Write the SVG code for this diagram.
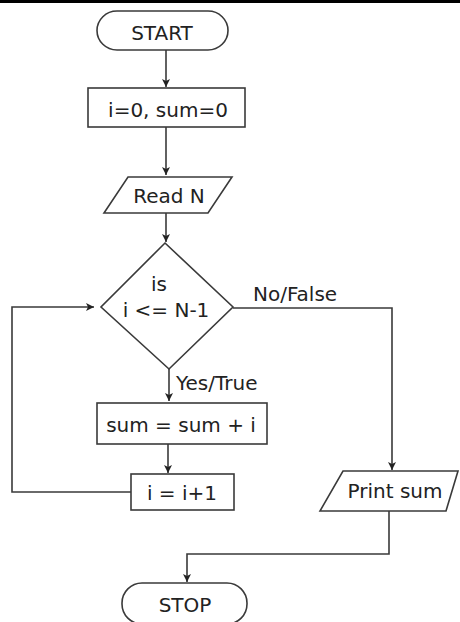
<svg xmlns="http://www.w3.org/2000/svg" width="460" height="622" viewBox="0 0 460 622">
<style>
.s{fill:#fff;stroke:#3a3a3a;stroke-width:1.6}
.c{fill:none;stroke:#3a3a3a;stroke-width:1.6}
.t{font-family:"DejaVu Sans",Verdana,sans-serif;font-size:20px;fill:#222}
.m{text-anchor:middle}
</style>
<defs>
<marker id="ah" markerWidth="10" markerHeight="10" refX="8" refY="4" orient="auto" markerUnits="userSpaceOnUse">
<path d="M0,0 L8,4 L0,8 L2,4 z" fill="#222"/>
</marker>
</defs>
<rect x="0" y="0" width="460" height="3" fill="#000"/>
<g id="connectors">
<line class="c" x1="166" y1="50" x2="166" y2="87" marker-end="url(#ah)"/>
<line class="c" x1="166" y1="127" x2="166" y2="175" marker-end="url(#ah)"/>
<line class="c" x1="166" y1="213" x2="166" y2="242" marker-end="url(#ah)"/>
<line class="c" x1="169" y1="369" x2="169" y2="401" marker-end="url(#ah)"/>
<line class="c" x1="168" y1="444" x2="168" y2="473" marker-end="url(#ah)"/>
<polyline class="c" points="131,492 12,492 12,307 94,307" marker-end="url(#ah)"/>
<polyline class="c" points="233,308 392,308 392,470" marker-end="url(#ah)"/>
<polyline class="c" points="389,511 389,554 187,554 187,582" marker-end="url(#ah)"/>
<text class="t" x="253" y="301">No/False</text>
<text class="t" x="176" y="390">Yes/True</text>
</g>
<g id="start">
<rect class="s" x="97" y="11" width="131" height="39" rx="20" ry="19.5"/>
<text class="t m" x="162" y="40">START</text>
</g>
<g id="init">
<rect class="s" x="88" y="88" width="157" height="39"/>
<text class="t m" x="168" y="117">i=0, sum=0</text>
</g>
<g id="read">
<polygon class="s" points="128,177 232,177 208,213 104,213"/>
<text class="t m" x="169" y="203">Read N</text>
</g>
<g id="decision">
<polygon class="s" points="165,243 233,307 169,369 101,307"/>
<text class="t m" x="159" y="291">is</text>
<text class="t m" x="166" y="317">i &lt;= N-1</text>
</g>
<g id="sum">
<rect class="s" x="97" y="403" width="170" height="41"/>
<text class="t m" x="181" y="432">sum = sum + i</text>
</g>
<g id="inc">
<rect class="s" x="131" y="474" width="103" height="36"/>
<text class="t m" x="182" y="500">i = i+1</text>
</g>
<g id="print">
<polygon class="s" points="343,471 458,471 446,511 320,511"/>
<text class="t m" x="395" y="498">Print sum</text>
</g>
<g id="stop">
<rect class="s" x="122" y="583" width="125" height="41" rx="20" ry="20"/>
<text class="t m" x="185" y="612">STOP</text>
</g>
</svg>
